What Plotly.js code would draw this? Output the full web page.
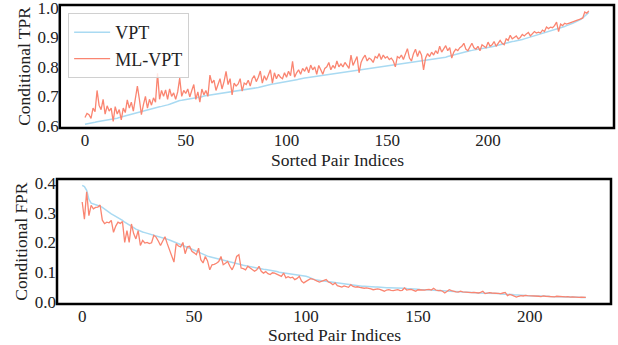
<!DOCTYPE html>
<html>
<head>
<meta charset="utf-8">
<script src="https://cdn.plot.ly/plotly-3.0.1.min.js"></script>
<style>html,body{margin:0;padding:0;background:#fff;}#chart{width:618px;height:345px;}</style>
</head>
<body>
<div id="chart"></div>
<script>
const seriesNames = ["VPT", "ML-VPT"];
const xTitle = "Sorted Pair Indices";
const yTitles = ["Conditional TPR", "Conditional FPR"];
const xTicks = [0, 50, 100, 150, 200];
const tprTicks = [0.6, 0.7, 0.8, 0.9, 1.0];
const fprTicks = [0.0, 0.1, 0.2, 0.3, 0.4];

const tprVPT = [
0.605,0.606,0.607,0.608,0.610,0.612,0.614,0.615,0.616,0.617,
0.618,0.619,0.620,0.621,0.622,0.624,0.626,0.628,0.630,0.631,
0.632,0.634,0.636,0.638,0.640,0.643,0.645,0.647,0.649,0.651,
0.653,0.655,0.657,0.659,0.661,0.663,0.664,0.665,0.666,0.667,
0.669,0.671,0.673,0.676,0.679,0.682,0.684,0.686,0.687,0.688,
0.689,0.690,0.691,0.692,0.693,0.694,0.695,0.697,0.699,0.701,
0.702,0.703,0.704,0.705,0.706,0.707,0.708,0.709,0.710,0.711,
0.712,0.713,0.714,0.715,0.716,0.717,0.718,0.719,0.720,0.721,
0.722,0.723,0.724,0.725,0.726,0.728,0.730,0.732,0.734,0.736,
0.738,0.740,0.741,0.742,0.743,0.744,0.745,0.746,0.747,0.748,
0.749,0.750,0.751,0.752,0.754,0.756,0.758,0.760,0.761,0.762,
0.763,0.764,0.765,0.766,0.767,0.768,0.769,0.770,0.771,0.772,
0.773,0.774,0.775,0.776,0.777,0.778,0.779,0.780,0.781,0.782,
0.783,0.784,0.785,0.786,0.787,0.788,0.789,0.790,0.791,0.792,
0.793,0.794,0.795,0.796,0.797,0.798,0.799,0.800,0.801,0.802,
0.803,0.804,0.805,0.806,0.807,0.808,0.809,0.810,0.811,0.812,
0.813,0.814,0.815,0.816,0.817,0.818,0.819,0.820,0.821,0.822,
0.823,0.824,0.825,0.826,0.827,0.828,0.829,0.830,0.831,0.833,
0.835,0.837,0.839,0.841,0.843,0.845,0.847,0.849,0.851,0.853,
0.854,0.855,0.856,0.857,0.858,0.859,0.860,0.861,0.862,0.863,
0.864,0.866,0.868,0.870,0.872,0.874,0.876,0.878,0.880,0.882,
0.884,0.885,0.886,0.887,0.888,0.889,0.891,0.893,0.895,0.897,
0.899,0.901,0.903,0.905,0.907,0.909,0.911,0.913,0.915,0.917,
0.921,0.923,0.925,0.927,0.929,0.931,0.933,0.935,0.937,0.940,
0.942,0.945,0.948,0.951,0.954,0.957,0.961,0.966,0.972,0.978,
0.985];

const tprMLVPT = [
0.628,0.642,0.638,0.625,0.660,0.648,0.720,0.670,0.655,0.690,
0.640,0.668,0.650,0.660,0.615,0.665,0.640,0.655,0.620,0.660,
0.645,0.688,0.660,0.680,0.650,0.700,0.735,0.690,0.638,0.672,
0.700,0.660,0.690,0.670,0.695,0.680,0.778,0.690,0.720,0.700,
0.722,0.690,0.725,0.700,0.712,0.690,0.715,0.762,0.700,0.720,
0.710,0.725,0.698,0.720,0.740,0.690,0.715,0.680,0.725,0.705,
0.720,0.700,0.772,0.745,0.755,0.720,0.740,0.760,0.725,0.750,
0.785,0.740,0.760,0.705,0.745,0.735,0.742,0.760,0.718,0.745,
0.740,0.755,0.735,0.760,0.770,0.750,0.765,0.786,0.745,0.770,
0.755,0.775,0.790,0.745,0.780,0.760,0.775,0.765,0.760,0.780,
0.765,0.785,0.770,0.819,0.765,0.780,0.790,0.775,0.795,0.785,
0.800,0.780,0.806,0.790,0.800,0.775,0.805,0.790,0.775,0.795,
0.800,0.815,0.790,0.805,0.795,0.820,0.800,0.810,0.800,0.815,
0.805,0.795,0.840,0.805,0.820,0.835,0.780,0.815,0.830,0.840,
0.820,0.830,0.825,0.815,0.835,0.830,0.845,0.825,0.840,0.830,
0.835,0.825,0.830,0.820,0.800,0.835,0.830,0.840,0.825,0.845,
0.862,0.830,0.820,0.845,0.860,0.835,0.855,0.840,0.790,0.830,
0.845,0.835,0.850,0.840,0.855,0.845,0.870,0.850,0.860,0.872,
0.855,0.865,0.830,0.850,0.860,0.855,0.865,0.870,0.880,0.860,
0.855,0.870,0.880,0.865,0.860,0.870,0.855,0.875,0.870,0.865,
0.884,0.870,0.875,0.886,0.870,0.880,0.890,0.880,0.875,0.895,
0.890,0.907,0.895,0.900,0.905,0.895,0.900,0.910,0.905,0.912,
0.917,0.905,0.912,0.920,0.915,0.918,0.915,0.925,0.920,0.935,
0.930,0.935,0.933,0.940,0.952,0.920,0.945,0.940,0.948,0.945,
0.948,0.950,0.953,0.956,0.958,0.960,0.963,0.966,0.986,0.982,
0.990];

const fprVPT = [
0.392,0.388,0.375,0.345,0.332,0.330,0.328,0.325,0.322,0.318,
0.312,0.306,0.300,0.296,0.292,0.288,0.284,0.280,0.274,0.268,
0.264,0.260,0.255,0.250,0.245,0.241,0.237,0.235,0.233,0.231,
0.229,0.227,0.225,0.223,0.221,0.219,0.217,0.214,0.211,0.208,
0.205,0.202,0.199,0.196,0.193,0.190,0.187,0.184,0.181,0.178,
0.176,0.172,0.168,0.164,0.160,0.156,0.154,0.152,0.150,0.148,
0.146,0.144,0.142,0.140,0.137,0.135,0.133,0.131,0.129,0.127,
0.125,0.124,0.123,0.122,0.121,0.120,0.118,0.116,0.114,0.112,
0.111,0.110,0.109,0.108,0.107,0.106,0.104,0.102,0.100,0.099,
0.098,0.097,0.096,0.095,0.094,0.093,0.092,0.090,0.088,0.087,
0.086,0.084,0.080,0.077,0.075,0.073,0.072,0.071,0.070,0.069,
0.068,0.067,0.064,0.063,0.062,0.061,0.060,0.059,0.058,0.057,
0.056,0.055,0.055,0.054,0.054,0.053,0.053,0.052,0.052,0.051,
0.051,0.050,0.050,0.049,0.049,0.049,0.048,0.048,0.048,0.047,
0.047,0.047,0.047,0.046,0.046,0.045,0.045,0.044,0.044,0.043,
0.043,0.042,0.042,0.041,0.041,0.040,0.040,0.039,0.039,0.039,
0.038,0.038,0.037,0.037,0.036,0.036,0.035,0.035,0.034,0.034,
0.033,0.033,0.032,0.032,0.032,0.031,0.031,0.030,0.030,0.030,
0.029,0.029,0.029,0.028,0.028,0.028,0.028,0.027,0.027,0.026,
0.026,0.025,0.025,0.024,0.024,0.023,0.023,0.022,0.022,0.021,
0.021,0.021,0.020,0.020,0.020,0.019,0.019,0.019,0.019,0.018,
0.018,0.018,0.018,0.018,0.017,0.017,0.017,0.017,0.017,0.016,
0.016,0.016,0.016,0.015,0.015,0.015];

const fprMLVPT = [
0.336,0.278,0.370,0.290,0.325,0.313,0.318,0.319,0.326,0.275,
0.263,0.268,0.266,0.274,0.234,0.255,0.268,0.264,0.270,0.200,
0.240,0.200,0.262,0.230,0.212,0.240,0.190,0.207,0.198,0.200,
0.196,0.199,0.224,0.218,0.205,0.190,0.205,0.219,0.196,0.173,
0.155,0.134,0.196,0.188,0.185,0.200,0.162,0.185,0.187,0.170,
0.165,0.159,0.181,0.142,0.131,0.153,0.138,0.108,0.125,0.126,
0.130,0.136,0.153,0.125,0.130,0.136,0.120,0.108,0.125,0.153,
0.159,0.114,0.112,0.108,0.120,0.114,0.110,0.103,0.108,0.120,
0.103,0.097,0.102,0.095,0.092,0.098,0.097,0.093,0.090,0.086,
0.097,0.081,0.085,0.081,0.083,0.075,0.079,0.086,0.070,0.064,
0.069,0.075,0.078,0.077,0.072,0.070,0.067,0.070,0.072,0.075,
0.067,0.064,0.058,0.064,0.055,0.053,0.050,0.054,0.052,0.049,
0.058,0.052,0.050,0.051,0.049,0.047,0.046,0.047,0.046,0.044,
0.041,0.043,0.044,0.042,0.040,0.036,0.040,0.041,0.039,0.038,
0.040,0.041,0.038,0.039,0.047,0.040,0.041,0.042,0.039,0.036,
0.041,0.040,0.039,0.040,0.041,0.042,0.040,0.046,0.040,0.038,
0.039,0.036,0.030,0.035,0.041,0.038,0.035,0.034,0.033,0.036,
0.034,0.033,0.032,0.033,0.031,0.032,0.031,0.030,0.032,0.036,
0.028,0.030,0.031,0.030,0.029,0.028,0.029,0.028,0.030,0.032,
0.021,0.025,0.023,0.020,0.016,0.019,0.021,0.020,0.022,0.021,
0.021,0.020,0.019,0.020,0.019,0.018,0.020,0.019,0.018,0.019,
0.018,0.017,0.019,0.018,0.017,0.016,0.017,0.018,0.016,0.017,
0.016,0.016,0.015,0.016,0.015,0.015];

const idx = arr => arr.map((_, i) => i);
const blue = "#a9daf2";
const salmon = "#fa8571";
const FONT = "Liberation Serif, DejaVu Serif, serif";
const tf = {family: FONT, size: 17, color: "#222"};
const xt = {family: FONT, size: 17.5, color: "#222"};
const yt = {family: FONT, size: 17.5, color: "#222"};

const traces = [
  {x: idx(tprVPT), y: tprVPT, name: seriesNames[0], type: "scatter", mode: "lines",
   line: {color: blue, width: 1.5}, xaxis: "x", yaxis: "y"},
  {x: idx(tprMLVPT), y: tprMLVPT, name: seriesNames[1], type: "scatter", mode: "lines",
   line: {color: salmon, width: 1.3}, xaxis: "x", yaxis: "y"},
  {x: idx(fprVPT), y: fprVPT, name: seriesNames[0], type: "scatter", mode: "lines", showlegend: false,
   line: {color: blue, width: 1.5}, xaxis: "x2", yaxis: "y2"},
  {x: idx(fprMLVPT), y: fprMLVPT, name: seriesNames[1], type: "scatter", mode: "lines", showlegend: false,
   line: {color: salmon, width: 1.3}, xaxis: "x2", yaxis: "y2"}
];

const axBase = {
  showline: false, showgrid: false, zeroline: false, ticks: "", ticklabeloverflow: "allow",
  tickfont: tf
};

const frame = (xr, yr) => ({type: "rect", xref: xr + " domain", yref: yr + " domain",
  x0: 0, x1: 1, y0: 0, y1: 1, line: {color: "#000", width: 2.5}, layer: "above"});

const layout = {
  width: 618, height: 345,
  margin: {l: 57, r: 4, t: 5, b: 41},
  paper_bgcolor: "#fff", plot_bgcolor: "#fff",
  font: {family: FONT, size: 17, color: "#222"},
  showlegend: true,
  legend: {x: 0.02, y: 0.973, xanchor: "left", yanchor: "top",
    bgcolor: "rgba(255,255,255,0.8)", bordercolor: "#d0d0d0", borderwidth: 1,
    itemwidth: 36, tracegroupgap: 0,
    font: {family: FONT, size: 18, color: "#222"}},
  xaxis: Object.assign({}, axBase, {domain: [0.005, 1], anchor: "y", range: [-12.5, 262.5],
    tickvals: xTicks}),
  yaxis: Object.assign({}, axBase, {domain: [0.589, 1], anchor: "x", range: [0.593, 1.01],
    tickvals: tprTicks, tickformat: ".1f", title: {text: yTitles[0], standoff: 2, font: yt}}),
  xaxis2: Object.assign({}, axBase, {domain: [0, 0.9946], anchor: "y2", range: [-11.25, 236.25],
    tickvals: xTicks}),
  yaxis2: Object.assign({}, axBase, {domain: [0, 0.4177], anchor: "x2", range: [-0.007, 0.413],
    tickvals: fprTicks, tickformat: ".1f", title: {text: yTitles[1], standoff: 2, font: yt}}),
  shapes: [frame("x", "y"), frame("x2", "y2")],
  annotations: [
    {text: xTitle, xref: "paper", yref: "paper", x: 0.503, y: 0.482, xanchor: "center", yanchor: "middle",
     showarrow: false, font: xt},
    {text: xTitle, xref: "paper", yref: "paper", x: 0.499, y: -0.105, xanchor: "center", yanchor: "middle",
     showarrow: false, font: xt}
  ]
};

Plotly.newPlot("chart", traces, layout, {displayModeBar: false, staticPlot: true});
</script>
</body>
</html>
